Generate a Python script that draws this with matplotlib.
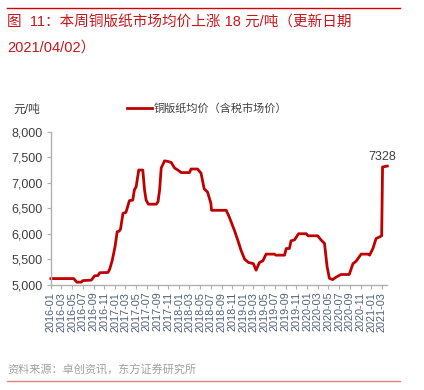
import matplotlib
matplotlib.use("Agg")
import matplotlib.pyplot as plt
import pandas as pd
from matplotlib.lines import Line2D

plt.rcParams['font.family'] = ['Liberation Sans', 'Noto Sans CJK SC', 'DejaVu Sans']

dates = [
    "2016-01-01", "2016-05-10", "2016-05-28", "2016-06-22", "2016-07-01", "2016-08-18",
    "2016-09-07", "2016-09-25", "2016-10-06", "2016-11-21", "2016-12-01", "2016-12-16",
    "2017-01-01", "2017-01-13", "2017-01-24", "2017-02-01", "2017-02-15", "2017-03-04",
    "2017-03-24", "2017-04-12", "2017-04-21", "2017-05-01", "2017-05-16", "2017-06-08",
    "2017-06-18", "2017-06-27", "2017-07-10", "2017-08-24", "2017-09-03", "2017-09-12",
    "2017-09-21", "2017-10-10", "2017-10-28", "2017-11-17", "2017-12-06", "2017-12-25",
    "2018-01-13", "2018-03-01", "2018-03-10", "2018-04-16", "2018-05-06", "2018-05-24",
    "2018-06-12", "2018-07-01", "2018-07-05", "2018-09-27", "2018-10-15", "2018-11-13",
    "2018-12-03", "2018-12-21", "2019-01-10", "2019-02-01", "2019-02-28", "2019-03-16",
    "2019-04-04", "2019-04-24", "2019-05-12", "2019-06-28", "2019-07-07", "2019-08-25",
    "2019-09-04", "2019-09-22", "2019-10-01", "2019-10-21", "2019-11-13", "2019-12-27",
    "2020-01-06", "2020-03-01", "2020-03-21", "2020-04-09", "2020-04-24", "2020-05-07",
    "2020-05-25", "2020-06-15", "2020-07-12", "2020-08-28", "2020-09-18", "2020-10-06",
    "2020-11-04", "2020-12-13", "2020-12-22", "2021-01-10", "2021-01-28", "2021-02-18",
    "2021-03-01", "2021-03-06", "2021-04-02",
]
prices = [
    5120, 5120, 5050, 5050, 5080, 5090,
    5175, 5180, 5235, 5240, 5300, 5480,
    5750, 6040, 6050, 6090, 6400, 6420,
    6650, 6660, 6860, 6920, 7250, 7250,
    6860, 6660, 6580, 6580, 6630, 6860,
    7290, 7430, 7420, 7400, 7290, 7250,
    7200, 7200, 7270, 7270, 7190, 6880,
    6820, 6600, 6460, 6460, 6320, 6060,
    5860, 5665, 5500, 5435, 5415, 5285,
    5435, 5470, 5600, 5600, 5580, 5580,
    5710, 5710, 5860, 5880, 6000, 6000,
    5960, 5960, 5875, 5810, 5350, 5125,
    5100, 5150, 5200, 5200, 5410, 5460,
    5600, 5600, 5580, 5710, 5905, 5940,
    5960, 7310, 7328,
]
y_ticks = [5000, 5500, 6000, 6500, 7000, 7500, 8000]
y_tick_labels = ["5,000", "5,500", "6,000", "6,500", "7,000", "7,500", "8,000"]
series_name = "铜版纸均价（含税市场价）"
last_label = "7328"

RED = "#C00000"
TXT = "#404040"

x = pd.to_datetime(dates)
fig = plt.figure(figsize=(4.24, 3.90), dpi=100)
ax = fig.add_axes([0.120, 0.270, 0.793, 0.392])
ax.plot(x, prices, color=RED, lw=2.0, clip_on=False, solid_joinstyle='round')

ax.set_xlim(pd.Timestamp("2016-01-01"), pd.Timestamp("2021-04-01"))
ax.set_ylim(5000, 8000)
ax.set_yticks(y_ticks)
ax.set_yticklabels(y_tick_labels)
xt = pd.date_range("2016-01-01", "2021-03-01", freq="2MS")
ax.set_xticks(xt)
ax.set_xticklabels([d.strftime("%Y-%m") for d in xt], rotation=90)

for s in ["top", "right"]:
    ax.spines[s].set_visible(False)
for s in ["left", "bottom"]:
    ax.spines[s].set_color("#B0B0B0")
    ax.spines[s].set_linewidth(1.0)
ax.tick_params(axis='y', labelsize=9, colors="#B0B0B0", labelcolor=TXT, length=3, pad=3)
ax.tick_params(axis='x', labelsize=7.8, colors="#B0B0B0", labelcolor="#50607A", length=3, pad=2)

ax.annotate(last_label, xy=(x[-1], prices[-1]), xytext=(-4, 2), textcoords="offset points",
            ha="center", va="bottom", fontsize=9, color=TXT)

# legend
fig.add_artist(Line2D([127/424, 152/424], [1-108.3/390]*2, color=RED, lw=2))
fig.text(154/424, 1-108.3/390, series_name, fontsize=8, color=TXT, va="center", ha="left")
fig.text(13/424, 1-110/390, "元/吨", fontsize=8.5, color=TXT, va="center", ha="left")

# header / footer
fig.add_artist(Line2D([7/424, 400/424], [1-7.5/390]*2, color="#D00000", lw=1.0))
fig.text(7/424, 1-22.5/390, "图  11：本周铜版纸市场均价上涨 18 元/吨（更新日期",
         fontsize=10.5, color="#C8161D", va="center", ha="left")
fig.text(7/424, 1-47.5/390, "2021/04/02）", fontsize=10.5, color="#C8161D", va="center", ha="left")
fig.text(7/424, 1-370/390, "资料来源：卓创资讯，东方证券研究所", fontsize=8, color="#A0A0A0",
         va="center", ha="left")
fig.add_artist(Line2D([7/424, 400/424], [1-381/390]*2, color="#E08080", lw=1.0))

fig.savefig("out.png", dpi=100)
